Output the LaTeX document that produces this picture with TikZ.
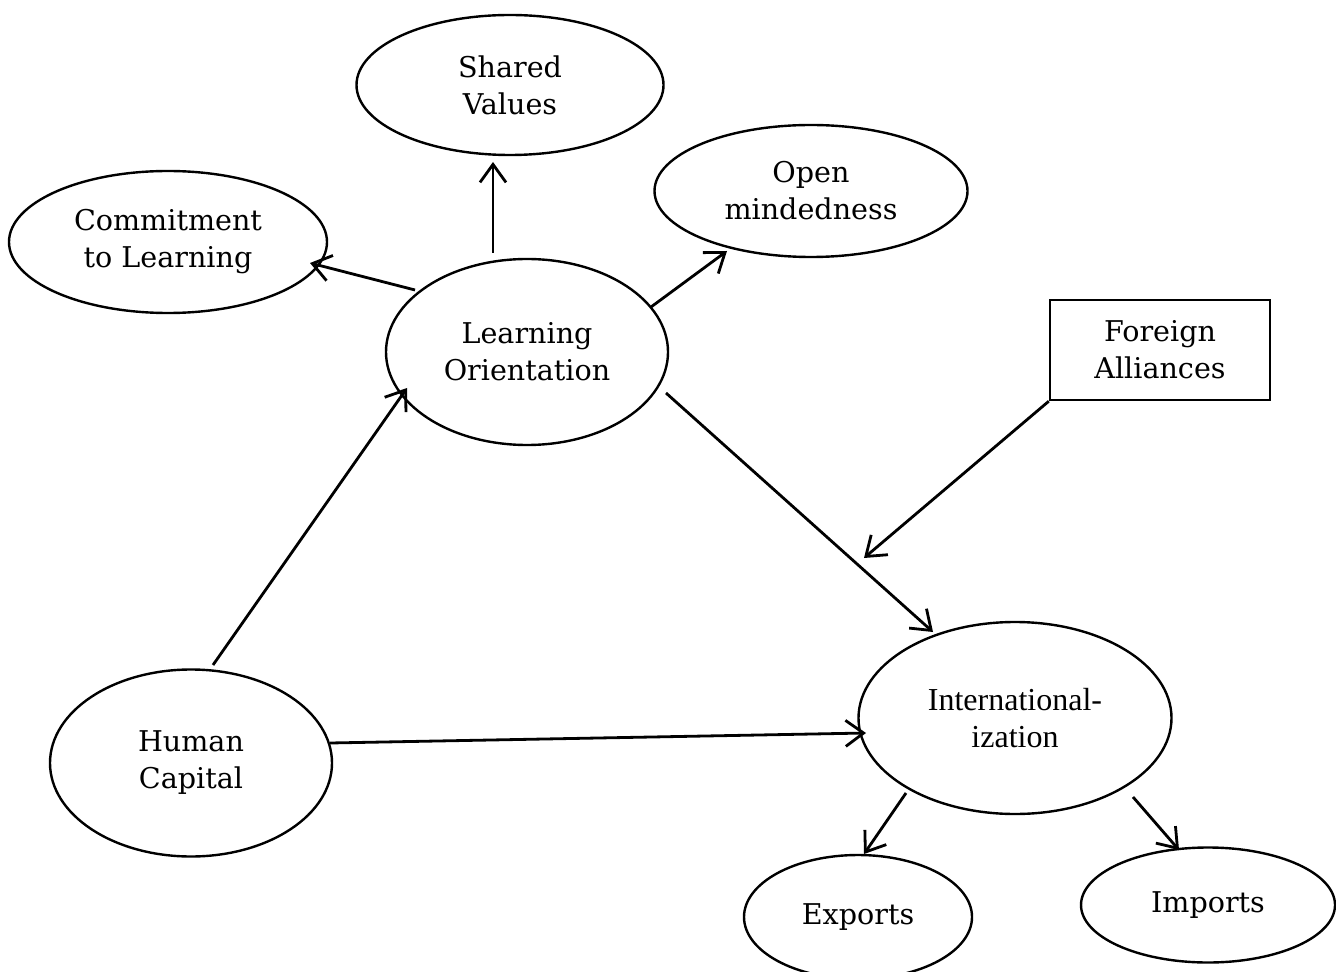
\documentclass[tikz,border=0pt]{standalone}
\usepackage{fontspec}
\setmainfont{DejaVu Serif}
\newfontfamily\timesfont{Liberation Serif}
\usetikzlibrary{shapes.geometric,arrows.meta,calc}
\begin{document}
\begin{tikzpicture}[x=0.5pt,y=-0.5pt,
  oval/.style={draw,ellipse,line width=1.2pt,inner sep=0pt,align=center,fill=white,
    font=\fontsize{14.3}{18.5}\selectfont},
  box/.style={draw,rectangle,line width=1.2pt,inner sep=0pt,align=center,fill=white,
    font=\fontsize{14.3}{18.5}\selectfont},
  arr/.style={line width=1.4pt,-{Straight Barb[length=9pt,width=13pt,line width=1.4pt]}}]
\useasboundingbox (0,0) rectangle (1336,972);
\node[oval,minimum width=153.5pt,minimum height=70pt] (sv) at (510,85) {Shared\\Values};
\node[oval,minimum width=159pt,minimum height=71pt] (cl) at (168,242) {Commitment\\to Learning};
\node[oval,minimum width=156.5pt,minimum height=66pt] (om) at (811,191) {Open\\mindedness};
\node[oval,minimum width=141pt,minimum height=93pt] (lo) at (527,352) {Learning\\Orientation};
\node[box,minimum width=110pt,minimum height=50pt] (fa) at (1160,350) {Foreign\\Alliances};
\node[oval,minimum width=156.5pt,minimum height=96pt,font=\timesfont\fontsize{16}{18.5}\selectfont] (in) at (1015,718) {International-\\ization};
\node[oval,minimum width=141pt,minimum height=93.5pt] (hc) at (191,763) {Human\\Capital};
\node[oval,minimum width=114pt,minimum height=62pt] (ex) at (858,917) {Exports};
\node[oval,minimum width=127pt,minimum height=57.5pt] (im) at (1208,905) {Imports};
\coordinate (faend) at (864,558);
\draw[arr] ($(lo)+(-34,-99)$) -- ($(sv)+(-17,77)$);
\draw[arr] ($(lo)+(-112,-62)$) -- ($(cl)+(142,21)$);
\draw[arr] ($(lo)+(124,-45)$) -- ($(om)+(-84,60)$);
\draw[arr] ($(hc)+(22,-98)$) -- ($(lo)+(-120,36)$);
\draw[arr] ($(lo)+(139,41)$) -- ($(in)+(-82,-86)$);
\draw[arr] (fa.south west) -- (faend);
\draw[arr] ($(hc)+(139,-20)$) -- ($(in)+(-149,15)$);
\draw[arr] ($(in)+(-109,75)$) -- ($(ex)+(6,-63)$);
\draw[arr] ($(in)+(118,79)$) -- ($(im)+(-29,-55)$);
\end{tikzpicture}
\end{document}
